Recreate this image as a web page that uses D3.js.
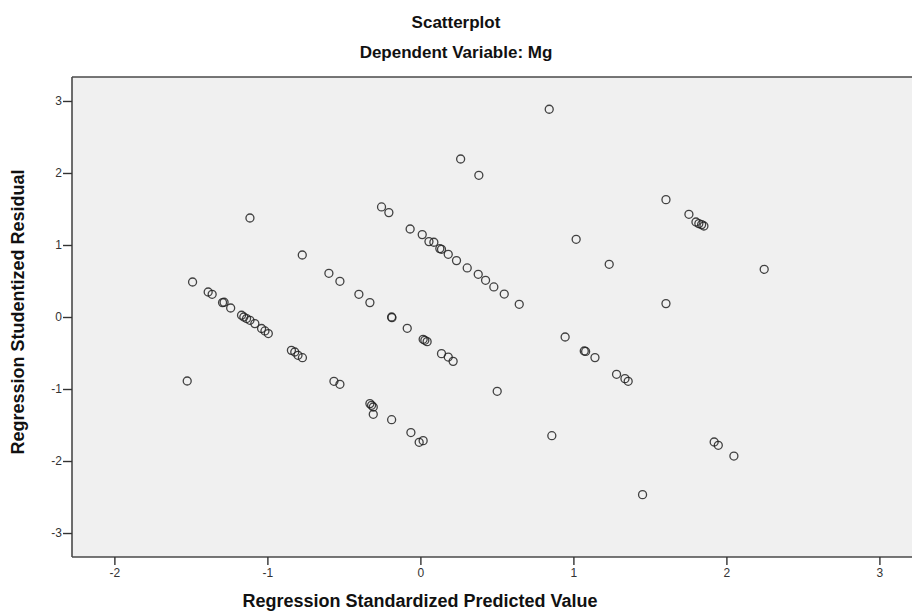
<!DOCTYPE html>
<html>
<head>
<meta charset="utf-8">
<script src="https://cdn.jsdelivr.net/npm/d3@7"></script>
<style>
  html, body { margin: 0; padding: 0; background: #ffffff; }
  svg { display: block; }
</style>
</head>
<body>
<div id="chart"></div>
<script>
// ---- Data ----
const predicted = [
  -1.489, -1.387, -1.361, -1.293, -1.283, -1.240, -1.169, -1.154, -1.136, -1.114, -1.082,
  -1.038, -1.016, -0.994, -0.843, -0.821, -0.800, -0.771,
  -1.524, -1.114, -0.772,
  -0.598, -0.526, -0.402, -0.330, -0.188, -0.186, -0.086, 0.018, 0.029, 0.044, 0.138, 0.182, 0.214,
  -0.565, -0.526, -0.330, -0.319, -0.308, -0.308, -0.188, -0.062, -0.008, 0.018,
  -0.254, -0.206, -0.067, 0.012, 0.056, 0.088, 0.127, 0.138, 0.182, 0.236, 0.306, 0.378, 0.426, 0.480, 0.548, 0.646,
  0.842, 0.263, 0.382,
  0.946, 1.071, 1.080, 1.141, 1.282, 1.337, 1.358,
  0.502, 0.859, 1.018, 1.234, 1.452,
  1.605, 1.755, 1.801, 1.820, 1.838, 1.853, 2.247, 1.605, 1.920, 1.947, 2.049
];
const residual = [
  0.486, 0.347, 0.315, 0.200, 0.205, 0.125, 0.024, 0.000, -0.022, -0.046, -0.092,
  -0.160, -0.194, -0.230, -0.463, -0.486, -0.532, -0.565,
  -0.889, 1.375, 0.861,
  0.607, 0.496, 0.315, 0.200, 0.000, -0.010, -0.157, -0.310, -0.324, -0.342, -0.509, -0.556, -0.616,
  -0.893, -0.935, -1.203, -1.226, -1.250, -1.351, -1.426, -1.605, -1.740, -1.717,
  1.528, 1.450, 1.222, 1.144, 1.047, 1.038, 0.950, 0.940, 0.871, 0.783, 0.681, 0.593, 0.510, 0.417, 0.319, 0.176,
  2.885, 2.194, 1.968,
  -0.278, -0.472, -0.478, -0.564, -0.796, -0.856, -0.893,
  -1.032, -1.648, 1.079, 0.732, -2.467,
  1.630, 1.426, 1.319, 1.297, 1.283, 1.264, 0.662, 0.186, -1.736, -1.782, -1.931
];
const xTicks = [-2, -1, 0, 1, 2, 3];
const yTicks = [-3, -2, -1, 0, 1, 2, 3];
const titleText = "Scatterplot";
const subtitleText = "Dependent Variable: Mg";
const xLabel = "Regression Standardized Predicted Value";
const yLabel = "Regression Studentized Residual";

// ---- Layout ----
const W = 912, H = 614;
const plot = { left: 72, top: 77, right: 912, bottom: 557 };

const svg = d3.select("#chart").append("svg")
  .attr("width", W).attr("height", H)
  .style("font-family", "'Liberation Sans', Arial, sans-serif");

const x = d3.scaleLinear().domain([-2.277, 3.213]).range([plot.left, plot.right]);
const y = d3.scaleLinear().domain([-3.333, 3.333]).range([plot.bottom, plot.top]);

// plot background
svg.append("rect")
  .attr("x", plot.left).attr("y", plot.top)
  .attr("width", plot.right - plot.left).attr("height", plot.bottom - plot.top)
  .attr("fill", "#f0f0f0");

// frame: top
const frameColor = "#4a4a4a";
svg.append("line").attr("x1", plot.left).attr("x2", plot.right)
  .attr("y1", plot.top).attr("y2", plot.top)
  .attr("stroke", frameColor).attr("stroke-width", 1.6);

// axes (plain hyphen for negatives, as in the reference)
const fmt = d => String(d);
const xAxis = d3.axisBottom(x).tickValues(xTicks).tickSize(8).tickPadding(3).tickFormat(fmt);
const yAxis = d3.axisLeft(y).tickValues(yTicks).tickSize(9).tickPadding(1).tickFormat(fmt);

const gx = svg.append("g").attr("transform", `translate(0,${plot.bottom})`).call(xAxis);
const gy = svg.append("g").attr("transform", `translate(${plot.left},0)`).call(yAxis);

[gx, gy].forEach(g => {
  g.select(".domain").attr("stroke", frameColor).attr("stroke-width", 1.6);
  g.selectAll(".tick line").attr("stroke", "#333").attr("stroke-width", 1.4);
  g.selectAll(".tick text").attr("fill", "#333").style("font-size", "12px")
    .style("font-family", "'Liberation Sans', Arial, sans-serif");
});
gy.select(".domain").attr("d", `M0,${plot.top}V${plot.bottom}`);
gx.select(".domain").attr("d", `M${plot.left},0H${plot.right}`);

// points
svg.append("g").selectAll("circle")
  .data(predicted.map((p, i) => [p, residual[i]]))
  .join("circle")
  .attr("cx", d => x(d[0]))
  .attr("cy", d => y(d[1]))
  .attr("r", 4)
  .attr("fill", "none")
  .attr("stroke", "#222")
  .attr("stroke-width", 1.3)
  .attr("stroke-opacity", 0.85);

// titles
svg.append("text").attr("x", 456).attr("y", 28)
  .attr("text-anchor", "middle").attr("font-weight", "bold")
  .style("font-size", "17px").attr("fill", "#111").text(titleText);
svg.append("text").attr("x", 456).attr("y", 58)
  .attr("text-anchor", "middle").attr("font-weight", "bold")
  .style("font-size", "17px").attr("fill", "#111").text(subtitleText);

// axis labels
svg.append("text").attr("x", 420).attr("y", 607)
  .attr("text-anchor", "middle").attr("font-weight", "bold")
  .style("font-size", "18px").attr("fill", "#111").text(xLabel);
svg.append("text")
  .attr("transform", `translate(24,312) rotate(-90)`)
  .attr("text-anchor", "middle").attr("font-weight", "bold")
  .style("font-size", "18px").attr("fill", "#111").text(yLabel);
</script>
</body>
</html>
